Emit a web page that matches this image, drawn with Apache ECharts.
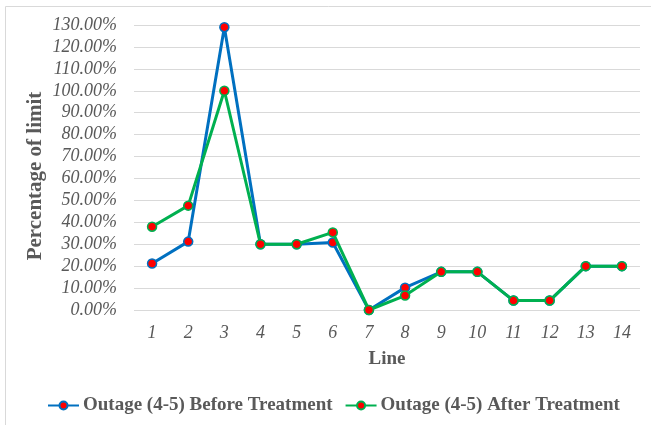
<!DOCTYPE html>
<html><head><meta charset="utf-8">
<script src="https://cdn.jsdelivr.net/npm/echarts@6/dist/echarts.min.js"></script>
<style>html,body{margin:0;padding:0;background:#fff}#c{width:651px;height:425px}</style>
</head><body><div id="c"></div>
<script>
const categories = ['1','2','3','4','5','6','7','8','9','10','11','12','13','14'];
const beforeTreatment = [21.2, 31.2, 129, 30, 30, 30.8, 0, 10.2, 17.4, 17.4, 4.3, 4.3, 20, 20];
const afterTreatment  = [38, 47.6, 100, 30, 30, 35.4, 0, 6.6, 17.4, 17.4, 4.3, 4.3, 20, 20];
const seriesNames = ['Outage (4-5) Before Treatment', 'Outage (4-5) After Treatment'];
const yTitle = 'Percentage of limit';
const xTitle = 'Line';
const font = 'Liberation Serif';
const chart = echarts.init(document.getElementById('c'));
chart.setOption({
  animation: false,
  graphic: [
    {type:'rect', shape:{x:5.5,y:6.5,width:700,height:500}, style:{fill:'none', stroke:'#d9d9d9', lineWidth:1}, silent:true},
    {type:'text', x:36, y:176, rotation:Math.PI/2,
     style:{text:yTitle, fontFamily:font, fontWeight:'bold', fontSize:21, fill:'#595959', align:'center', verticalAlign:'middle'}}
  ],
  grid: {left:134, right:11, top:25, bottom:115},
  xAxis: {
    type:'category', data: categories, boundaryGap:true,
    name: xTitle, nameLocation:'middle', nameGap:40,
    nameTextStyle:{fontFamily:font, fontWeight:'bold', fontSize:19, color:'#595959'},
    axisLine:{show:false}, axisTick:{show:false},
    axisLabel:{fontFamily:font, fontStyle:'italic', fontSize:18, color:'#595959', margin:14}
  },
  yAxis: {
    type:'value', min:0, max:130, interval:10,
    axisLine:{show:false}, axisTick:{show:false},
    splitLine:{lineStyle:{color:'#d9d9d9', width:1}},
    axisLabel:{fontFamily:font, fontStyle:'italic', fontSize:18, color:'#595959', margin:17,
      formatter: v => v.toFixed(2) + '%'}
  },
  legend: {
    bottom: 5, left:42, itemGap:12, itemWidth:31, itemHeight:10,
    textStyle:{fontFamily:font, fontWeight:'bold', fontSize:19, color:'#595959', padding:[0,0,0,-1]},
    data: seriesNames
  },
  series: [
    {name: seriesNames[0], type:'line', data: beforeTreatment, symbol:'circle', symbolSize:9,
     lineStyle:{color:'#0070C0', width:3}, itemStyle:{color:'#ff0000', borderColor:'#0070C0', borderWidth:1.5}, z:2},
    {name: seriesNames[1], type:'line', data: afterTreatment, symbol:'circle', symbolSize:9,
     lineStyle:{color:'#00B050', width:3}, itemStyle:{color:'#ff0000', borderColor:'#00B050', borderWidth:1.5}, z:3}
  ]
});
</script></body></html>
